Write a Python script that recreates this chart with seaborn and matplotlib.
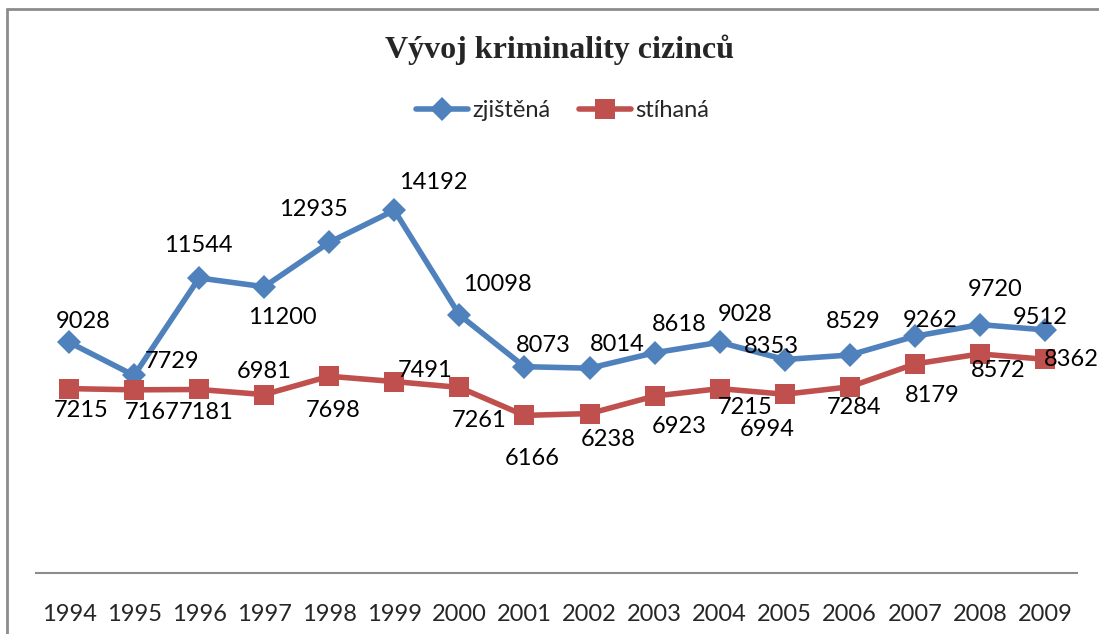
import matplotlib
matplotlib.use("Agg")
import matplotlib.pyplot as plt
import seaborn as sns
import pandas as pd
from matplotlib.lines import Line2D

years = ["1994", "1995", "1996", "1997", "1998", "1999", "2000", "2001",
         "2002", "2003", "2004", "2005", "2006", "2007", "2008", "2009"]
zjistena = [9028, 7729, 11544, 11200, 12935, 14192, 10098, 8073,
            8014, 8618, 9028, 8353, 8529, 9262, 9720, 9512]
stihana = [7215, 7167, 7181, 6981, 7698, 7491, 7261, 6166,
           6238, 6923, 7215, 6994, 7284, 8179, 8572, 8362]

# label offsets in pixels (dx, dy), as placed in the original
off_blue = [(14, 21), (38, 14), (-1, 32), (18, -31), (-16, 33), (39, 28),
            (38, 30), (19, 21), (28, 24), (25, 28), (25, 28), (-13, 13),
            (4, 34), (15, 16), (15, 35), (-5, 12)]
off_red = [(12, -22), (18, -23), (7, -23), (0, 23), (4, -34), (31, 11),
           (20, -33), (8, -43), (19, -26), (25, -30), (25, -19), (-17, -35),
           (4, -21), (17, -32), (18, -17), (26, 0)]

BLUE = "#4F81BD"
RED = "#C0504D"
FS = 17

sns.set_theme(style="white")
plt.rcParams['font.family'] = ['Lato', 'DejaVu Sans']

fig = plt.figure(figsize=(10.99, 6.34), dpi=100)
ax = fig.add_axes([0.0332, 0.0962, 0.9472, 0.645])

x = list(range(len(years)))
df = pd.DataFrame({"x": x, "zjištěná": zjistena, "stíhaná": stihana})

sns.lineplot(data=df, x="x", y="zjištěná", ax=ax, color=BLUE, lw=4,
             marker="D", markersize=12, markeredgewidth=0)
sns.lineplot(data=df, x="x", y="stíhaná", ax=ax, color=RED, lw=4,
             marker="s", markersize=14, markeredgewidth=0)

for i in x:
    ax.annotate(str(zjistena[i]), (i, zjistena[i]), xytext=off_blue[i],
                textcoords="offset pixels", ha="center", va="center",
                fontsize=FS, color="black")
    ax.annotate(str(stihana[i]), (i, stihana[i]), xytext=off_red[i],
                textcoords="offset pixels", ha="center", va="center",
                fontsize=FS, color="black")

ax.set_xlim(-0.5, len(years) - 0.5)
ax.set_ylim(0, 16000)
ax.set_xticks(x)
ax.set_xticklabels(years, fontsize=FS)
ax.set_yticks([])
ax.set_xlabel("")
ax.set_ylabel("")
ax.tick_params(axis="x", length=0, pad=22)
for s in ["top", "right", "left"]:
    ax.spines[s].set_visible(False)
ax.spines["bottom"].set_color("#8c8c8c")
ax.spines["bottom"].set_linewidth(1.5)

fig.text(0.5095, 0.922, "Vývoj kriminality cizinců", ha="center", va="center",
         fontsize=23, fontweight="bold", family="Liberation Serif")

handles = [Line2D([], [], color=BLUE, lw=4, marker="D", markersize=12, markeredgewidth=0),
           Line2D([], [], color=RED, lw=4, marker="s", markersize=14, markeredgewidth=0)]
fig.legend(handles, ["zjištěná", "stíhaná"], loc="center", bbox_to_anchor=(0.512, 0.826),
           ncol=2, frameon=False, fontsize=FS, handlelength=2.2, handletextpad=0.2,
           columnspacing=1.2)

# chart frame (top and left edges visible)
fig.add_artist(Line2D([7 / 1099, 7 / 1099], [0, 1 - 9 / 634], transform=fig.transFigure,
                      color="#8c8c8c", lw=2))
fig.add_artist(Line2D([7 / 1099, 1], [1 - 9 / 634, 1 - 9 / 634], transform=fig.transFigure,
                      color="#8c8c8c", lw=2))

fig.savefig("out.png", dpi=100)
